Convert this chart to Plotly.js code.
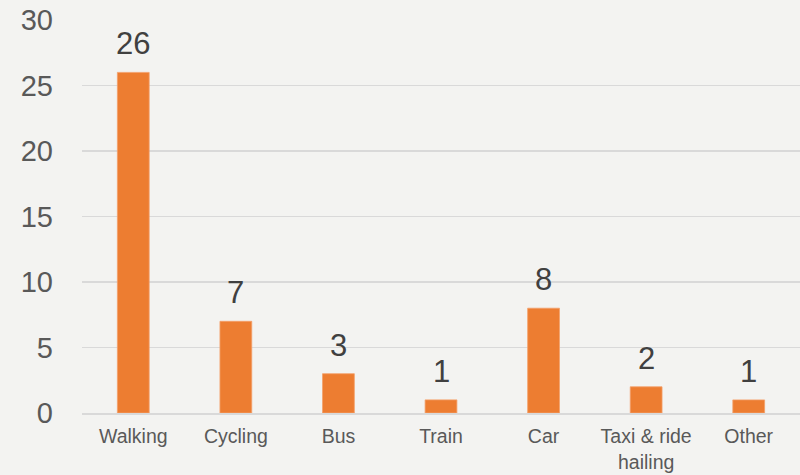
<!DOCTYPE html>
<html><head><meta charset="utf-8">
<script src="https://cdn.plot.ly/plotly-3.0.1.min.js"></script>
<style>html,body{margin:0;padding:0;background:#f3f3f1;}</style>
</head><body>
<div id="chart" style="width:800px;height:475px;"></div>
<script>
const categories = ["Walking", "Cycling", "Bus", "Train", "Car", "Taxi & ride<br>hailing", "Other"];
const values = [26, 7, 3, 1, 8, 2, 1];
const yTicks = [0, 5, 10, 15, 20, 25, 30];

const FONT = 'Liberation Sans, Arial, sans-serif';
const labels = categories.map((c, i) => ({
  x: c, y: values[i], xref: 'x', yref: 'y',
  text: String(values[i]), showarrow: false,
  yanchor: 'bottom', yshift: 9,
  font: {family: FONT, size: 31, color: '#404040'}
}));

Plotly.newPlot('chart', [{
  type: 'bar',
  x: categories,
  y: values,
  marker: {color: '#ed7d31', line: {color: '#f4a06a', width: 0.8}},
  hoverinfo: 'none'
}], {
  width: 800, height: 475,
  margin: {l: 82, r: 0, t: 20, b: 62},
  paper_bgcolor: '#f3f3f1',
  plot_bgcolor: '#f3f3f1',
  bargap: 0.69,
  showlegend: false,
  font: {family: FONT, color: '#595959'},
  annotations: labels,
  xaxis: {
    type: 'category',
    tickfont: {size: 19.5, color: '#595959'},
    showline: true, linecolor: '#d9d9d9', linewidth: 2,
    ticks: '', showgrid: false, zeroline: false,
    ticklabelstandoff: 5
  },
  yaxis: {
    range: [0, 30],
    tickvals: yTicks,
    tickfont: {size: 29, color: '#595959'},
    showgrid: true, gridcolor: '#d9d9d9', gridwidth: 1.5,
    zeroline: false, showline: false,
    ticks: '', ticklabelstandoff: 28
  }
}, {staticPlot: true});
</script>
</body></html>
